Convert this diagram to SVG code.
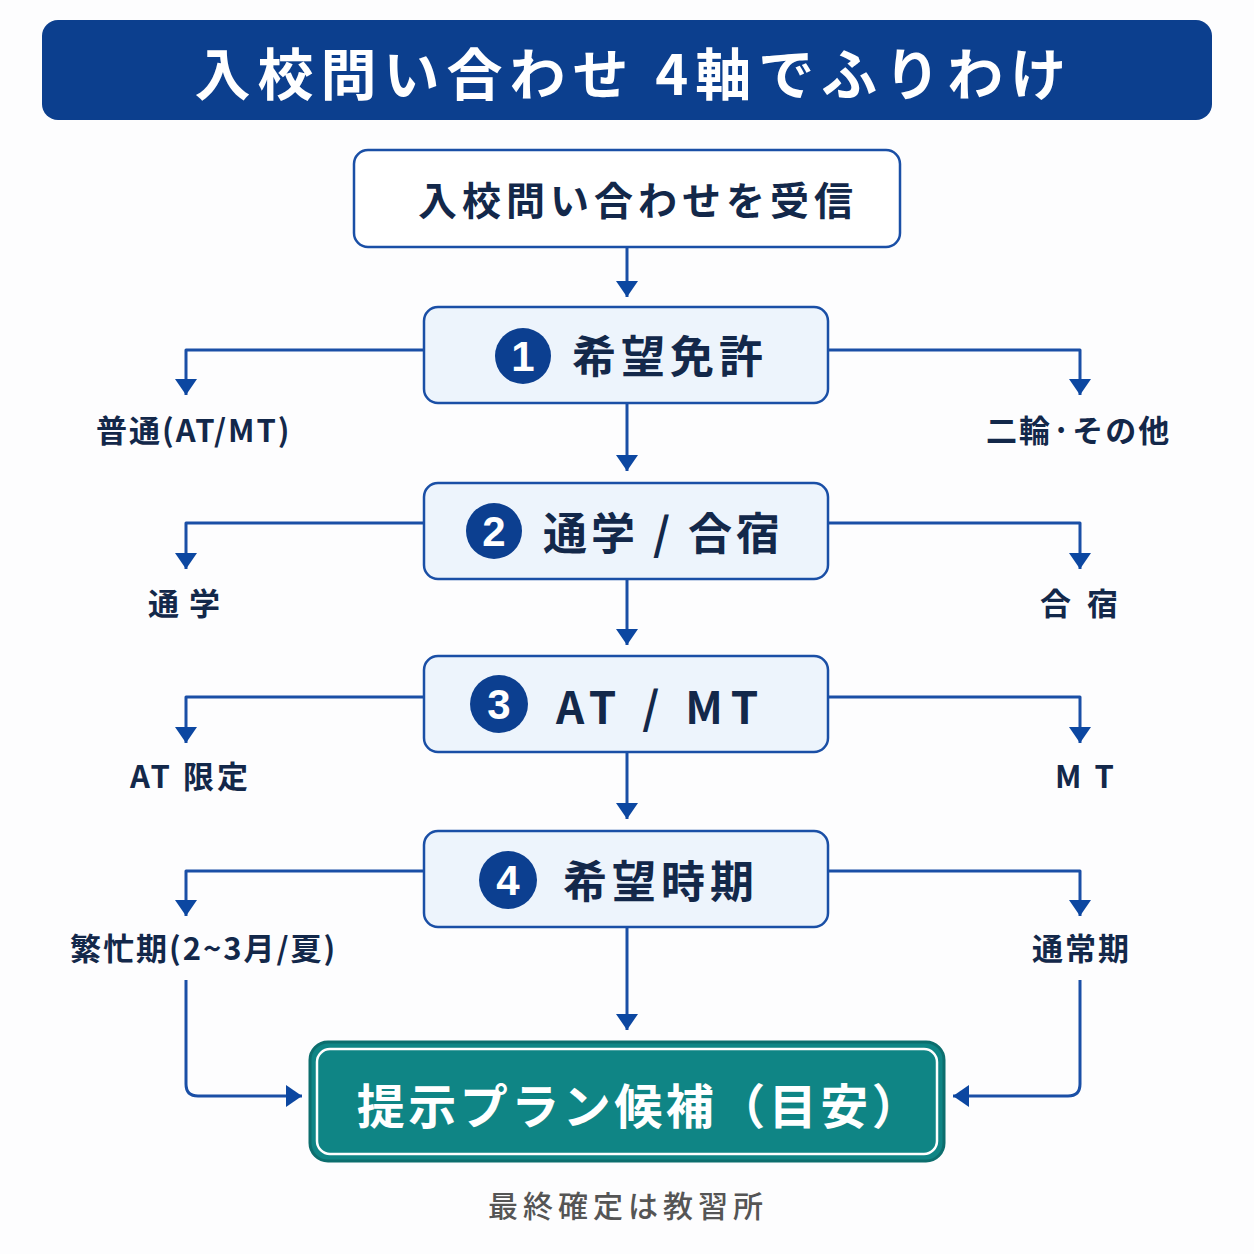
<svg xmlns="http://www.w3.org/2000/svg" width="1254" height="1254" viewBox="0 0 1254 1254">
<style>
.jp{font-family:"Noto Sans CJK JP","Noto Sans",sans-serif;font-weight:700}
.title{fill:#fff;font-size:56px;letter-spacing:7px}
.step{fill:#edf4fc;stroke:#1a4fa6;stroke-width:2.5}
.stext{fill:#13284a;font-size:44px}
.lab{fill:#13284a;font-size:31px}
.num{fill:#fff;font-size:42px;font-family:"Liberation Sans",Arial,sans-serif;font-weight:700}
.badge{fill:#0c3f90}
.con{fill:none;stroke:#1a4fa6;stroke-width:3;stroke-linejoin:round}
</style>
<defs>
<marker id="ah" markerUnits="userSpaceOnUse" markerWidth="20" markerHeight="26" refX="16" refY="11" orient="auto">
<path d="M0,0 L16,11 L0,22 z" fill="#0c47a1"/>
</marker>
</defs>
<rect width="1254" height="1254" fill="#fdfdfe"/>
<g id="title">
<rect x="42" y="20" width="1170" height="100" rx="16" fill="#0c3f8e"/>
<text class="jp title" x="634" y="95" text-anchor="middle">入校問い合わせ 4軸でふりわけ</text>
</g>
<g id="connectors">
<path class="con" d="M627,248 V297" marker-end="url(#ah)"/>
<path class="con" d="M627,404 V471" marker-end="url(#ah)"/>
<path class="con" d="M627,580 V645" marker-end="url(#ah)"/>
<path class="con" d="M627,753 V819" marker-end="url(#ah)"/>
<path class="con" d="M627,928 V1030" marker-end="url(#ah)"/>
<path class="con" d="M424,350 H186 V395" marker-end="url(#ah)"/>
<path class="con" d="M828,350 H1080 V395" marker-end="url(#ah)"/>
<path class="con" d="M424,523 H186 V569" marker-end="url(#ah)"/>
<path class="con" d="M828,523 H1080 V569" marker-end="url(#ah)"/>
<path class="con" d="M424,697 H186 V743" marker-end="url(#ah)"/>
<path class="con" d="M828,697 H1080 V743" marker-end="url(#ah)"/>
<path class="con" d="M424,871 H186 V916" marker-end="url(#ah)"/>
<path class="con" d="M828,871 H1080 V916" marker-end="url(#ah)"/>
<path class="con" d="M186,980 V1084 Q186,1096 198,1096 H302" marker-end="url(#ah)"/>
<path class="con" d="M1080,980 V1084 Q1080,1096 1068,1096 H953" marker-end="url(#ah)"/>
</g>
<g id="start">
<rect x="354" y="150" width="546" height="97" rx="14" fill="#fff" stroke="#1a4fa6" stroke-width="2.5"/>
<text class="jp" x="638" y="215" text-anchor="middle" fill="#13284a" font-size="39" style="letter-spacing:5px">入校問い合わせを受信</text>
</g>
<g id="step1">
<rect class="step" x="424" y="307" width="404" height="96" rx="14"/>
<circle class="badge" cx="523" cy="356" r="28"/>
<text class="num" x="523" y="371" text-anchor="middle">1</text>
<text class="jp stext" x="572" y="373" style="letter-spacing:5px">希望免許</text>
</g>
<g id="step2">
<rect class="step" x="424" y="483" width="404" height="96" rx="14"/>
<circle class="badge" cx="494" cy="531" r="28"/>
<text class="num" x="494" y="546" text-anchor="middle">2</text>
<text class="jp stext" x="543" y="550" style="letter-spacing:4px">通学 / 合宿</text>
</g>
<g id="step3">
<rect class="step" x="424" y="656" width="404" height="96" rx="14"/>
<circle class="badge" cx="499" cy="704" r="29"/>
<text class="num" x="499" y="719" text-anchor="middle">3</text>
<text class="jp stext" x="556" y="724" style="letter-spacing:8px">AT / MT</text>
</g>
<g id="step4">
<rect class="step" x="424" y="831" width="404" height="96" rx="14"/>
<circle class="badge" cx="508" cy="880" r="29"/>
<text class="num" x="508" y="895" text-anchor="middle">4</text>
<text class="jp stext" x="563" y="898" style="letter-spacing:5px">希望時期</text>
</g>
<g id="labels">
<text class="jp lab" x="96" y="442" style="letter-spacing:2px">普通(AT/MT)</text>
<text class="jp lab" x="986" y="442" style="letter-spacing:2px">二輪·その他</text>
<text class="jp lab" x="148" y="615" style="letter-spacing:10px">通学</text>
<text class="jp lab" x="1040" y="615" style="letter-spacing:16px">合宿</text>
<text class="jp lab" x="130" y="788" style="letter-spacing:3px">AT 限定</text>
<text class="jp lab" x="1055" y="788" style="letter-spacing:13px">MT</text>
<text class="jp lab" x="70" y="960" style="letter-spacing:2px">繁忙期(2~3月/夏)</text>
<text class="jp lab" x="1032" y="960" style="letter-spacing:2px">通常期</text>
</g>
<g id="result">
<rect x="310" y="1042" width="634" height="119" rx="18" fill="#0f8585" stroke="#0c6e6e" stroke-width="3"/>
<rect x="317" y="1049" width="620" height="105" rx="13" fill="none" stroke="#fff" stroke-width="2.5"/>
<text class="jp" x="640" y="1124" text-anchor="middle" fill="#fff" font-size="48" style="letter-spacing:3.5px">提示プラン候補（目安）</text>
</g>
<g id="note">
<text x="628" y="1217" text-anchor="middle" fill="#555" font-size="30" style="font-family:'Noto Sans CJK JP','Noto Sans',sans-serif;font-weight:500;letter-spacing:5px">最終確定は教習所</text>
</g>
</svg>
